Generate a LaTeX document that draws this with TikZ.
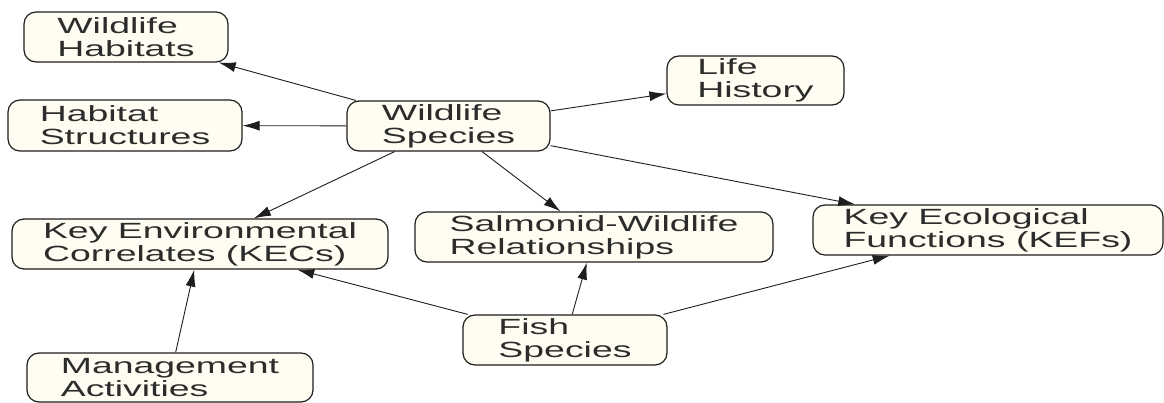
\documentclass[tikz,border=0pt]{standalone}
\usepackage{fontspec}
\setmainfont[FakeStretch=1.7]{Liberation Sans}
\usetikzlibrary{arrows.meta}
\definecolor{boxfill}{HTML}{FFFDF1}
\definecolor{ink}{HTML}{1E1E1E}
\definecolor{txt}{HTML}{2C2C2C}
\tikzset{
  box/.style={draw=ink, line width=1.2pt, fill=boxfill, rounded corners=12pt,
    inner sep=0pt, align=left, text=txt,
    font=\fontsize{22}{23}\selectfont},
  link/.style={draw=ink, line width=0.9pt, -{Latex[length=17pt,width=10pt]}}
}
\begin{document}
\begin{tikzpicture}[x=1pt,y=-1pt]
\useasboundingbox[fill=white] (0,0) rectangle (1164,403);
\node[box, minimum width=204pt, minimum height=50pt] (wh) at (126,37) {Wildlife\\Habitats};
\node[box, minimum width=234pt, minimum height=51pt] (hs) at (125,125.5) {Habitat\\Structures};
\node[box, minimum width=203pt, minimum height=50pt] (ws) at (448.5,126) {Wildlife\\Species};
\node[box, minimum width=177pt, minimum height=49pt] (lh) at (755.5,80.5) {Life\\History};
\node[box, minimum width=376pt, minimum height=50pt] (kec) at (200,244) {Key Environmental\\Correlates (KECs)};
\node[box, minimum width=358pt, minimum height=50pt] (swr) at (594,237) {Salmonid-Wildlife\\Relationships};
\node[box, minimum width=350pt, minimum height=50pt] (kef) at (988,230) {Key Ecological\\Functions (KEFs)};
\node[box, minimum width=204pt, minimum height=50pt] (fs) at (565,340) {Fish\\Species};
\node[box, minimum width=286pt, minimum height=49pt] (ma) at (170,377.5) {Management\\Activities};
\draw[link] (ws) -- (wh);
\draw[link] (ws) -- (hs);
\draw[link] (ws) -- (lh);
\draw[link] (ws) -- (kec);
\draw[link] (ws) -- (swr);
\draw[link] (ws) -- (kef);
\draw[link] (fs) -- (kec);
\draw[link] (fs) -- (swr);
\draw[link] (fs) -- (kef);
\draw[link] (ma) -- (kec);
\end{tikzpicture}
\end{document}
